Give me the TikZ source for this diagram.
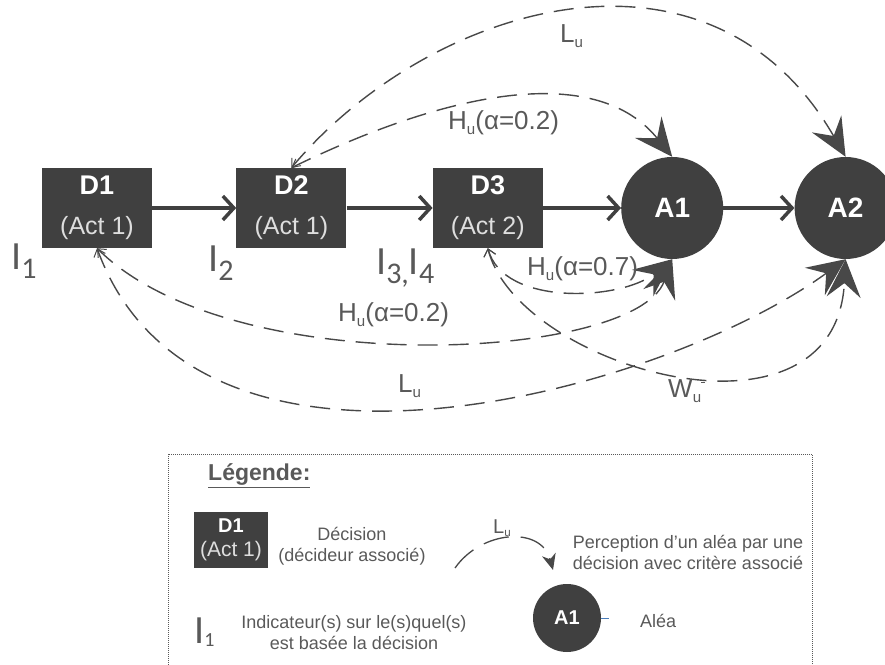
\documentclass[tikz,border=0pt]{standalone}
\usepackage{fontspec}
\setmainfont{Liberation Sans}
\newfontfamily\calfont{Carlito}
\usepackage{graphicx}
\usepackage{tikz}
\usetikzlibrary{positioning,calc}
\usetikzlibrary{arrows.meta}
\definecolor{BoxGray}{RGB}{64,64,64}
\definecolor{ArcGray}{RGB}{72,72,72}
\definecolor{TxtGray}{RGB}{89,89,89}
\definecolor{ActGray}{RGB}{222,222,222}
\definecolor{StubBlue}{RGB}{74,126,187}
\newcommand{\usub}[1]{\raisebox{-0.18em}{\scalebox{0.58}{#1}}}
\newcommand{\isub}[1]{\raisebox{-0.22em}{\scalebox{0.75}{#1}}}
\tikzset{
	dec/.style={rectangle,fill=BoxGray,text=white,inner sep=0pt,minimum width=110pt,minimum height=80pt,
		align=center,font=\fontsize{27}{40}\selectfont},
	alea/.style={circle,fill=BoxGray,text=white,inner sep=0pt,minimum size=102pt,font=\bfseries\fontsize{28}{28}\selectfont},
	flow/.style={draw=BoxGray,line width=3.5pt,arrows={-Straight Barb[length=11pt,width=24pt]}},
	percep/.style={draw=ArcGray,line width=1.4pt,dash pattern=on 20pt off 11pt,
		arrows={Straight Barb[length=7pt,width=12pt,line width=1pt]-Stealth[length=38pt,width=34pt,inset=14pt]}},
	lbl/.style={text=TxtGray,inner sep=0pt,anchor=base west,font=\fontsize{26}{26}\selectfont},
	ind/.style={text=TxtGray,inner sep=0pt,anchor=base west,font=\calfont\fontsize{40}{40}\selectfont},
	note/.style={text=TxtGray,inner sep=0pt,align=center,font=\fontsize{18}{21}\selectfont},
	legbox/.style={draw=TxtGray,line width=0.8pt,dash pattern=on 1pt off 1pt},
}
\begin{document}
\begin{tikzpicture}[x=1pt,y=1pt]
	\useasboundingbox (0,0) rectangle (885,664);
	% decisions and aleas
	\node[dec] (D1) at (97,456) {\textbf{D1}\\{\color{ActGray}\fontsize{25}{40}\selectfont(Act 1)}};
	\node[dec,right=84pt of D1] (D2) {\textbf{D2}\\{\color{ActGray}\fontsize{25}{40}\selectfont(Act 1)}};
	\node[dec,right=86pt of D2] (D3) {\textbf{D3}\\{\color{ActGray}\fontsize{25}{40}\selectfont(Act 2)}};
	\node[alea,right=78pt of D3] (A1) {A1};
	\node[alea,right=71pt of A1] (A2) {A2};
	\foreach \a/\b in {D1/D2,D2/D3,D3/A1,A1/A2}
	\draw[flow] (\a) -- (\b);
	% indicators
	\node[ind] (i1) at (11,394) {I\isub{1}};
	\node[ind] (i2) at (208,392) {I\isub{2}};
	\node[ind] (i34) at (376,389) {I\isub{3,}I\isub{4}};
	% perceptions
	\draw[percep] (D2.north) .. controls +(50:213) and +(120:274) .. (A2.north);
	\draw[percep] (D2.north) .. controls +(26:185) and +(129:118) .. (A1.north);
	\draw[percep] (D1.south) .. controls +(-45:190) and +(-110:108) .. (A1.south);
	\draw[percep] (D1.south) .. controls +(-70:294) and +(216:223) .. (A2.south);
	\draw[percep] (D3.south) .. controls +(-75:61) and +(219:65) .. (A1.south);
	\draw[percep] (D3.south) .. controls +(-76:123) and +(-93:200) .. (A2.south);
	\node[lbl] (lTopL) at (560,621) {L\usub{u}};
	\node[lbl] (lTopH) at (448,534) {H\usub{u}(α=0.2)};
	\node[lbl] (lMidH) at (527,388) {H\usub{u}(α=0.7)};
	\node[lbl] (lBotH) at (338,342) {H\usub{u}(α=0.2)};
	\node[lbl] (lBotL) at (398,271) {L\usub{u}};
	\node[lbl] (lBotW) at (668,266) {W\usub{u}\raisebox{15pt}{\rule{4pt}{1.3pt}}};
	% legend
	\draw[legbox] (168,210) rectangle (812,-30);
	\node[text=TxtGray,inner sep=0pt,anchor=base west,font=\bfseries\fontsize{23}{23}\selectfont] (legTitle) at (208,183) {\underline{Légende:}};
	\node[dec,minimum width=74pt,minimum height=56pt,font=\fontsize{20}{24}\selectfont] (lgD) at (231,124) {\textbf{D1}\\{\color{ActGray}\fontsize{21}{24}\selectfont(Act 1)}};
	\node[note] (lgDtxt) at (352,118) {Décision\\(décideur associé)};
	\coordinate (lgA) at (455,96);
	\coordinate (lgB) at (553,94);
	\draw[draw=ArcGray,line width=1.3pt,dash pattern=on 26pt off 12pt,-{Stealth[length=16pt,width=14pt,inset=5pt]}] (lgA) to[out=55,in=105,looseness=1.2] (lgB);
	\node[lbl,font=\fontsize{20}{20}\selectfont] (lgL) at (493,131) {L\usub{u}};
	\node[note] (lgPtxt) at (688,112) {Perception d'un aléa par une\\décision avec critère associé};
	\node[ind] (lgI) at (194,21) {I\raisebox{-0.08em}{\scalebox{0.5}{1}}};
	\node[note] (lgItxt) at (354,31) {Indicateur(s) sur le(s)quel(s)\\est basée la décision};
	\node[alea,minimum size=68pt,font=\bfseries\fontsize{20}{20}\selectfont] (lgA1) at (567,46) {A1};
	\coordinate (lgStub) at (609,46);
	\draw[StubBlue,line width=1pt] (lgA1) -- (lgStub);
	\node[note,anchor=base west] (lgAlea) at (640,37) {Aléa};
\end{tikzpicture}
\end{document}
